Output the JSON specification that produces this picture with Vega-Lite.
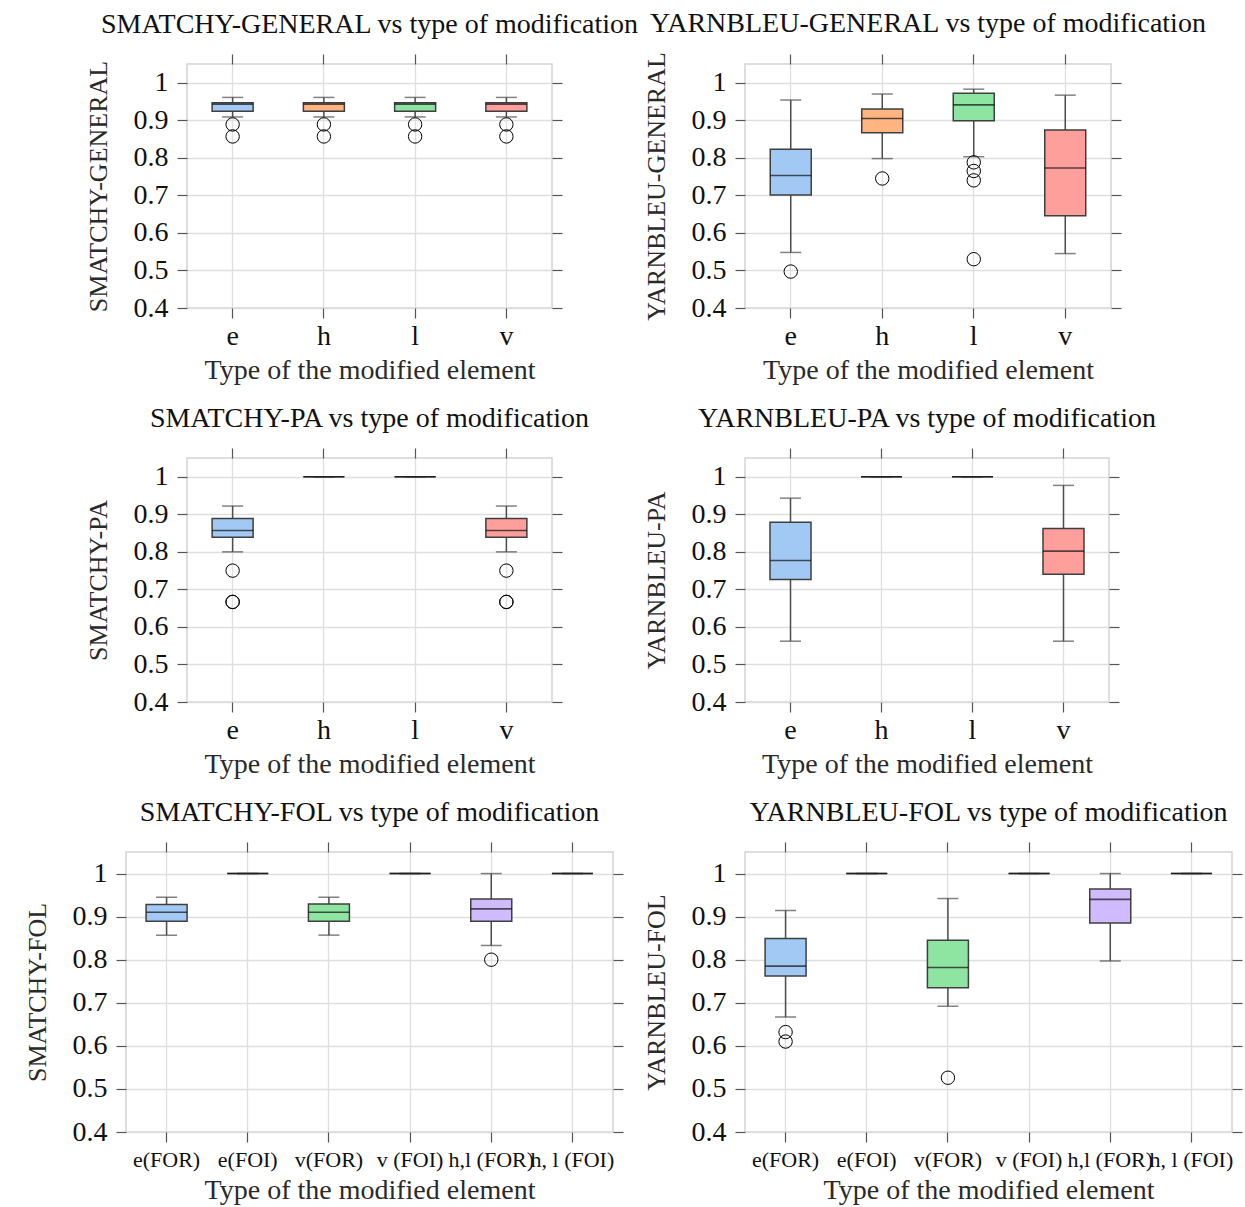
{
"$schema": "https://vega.github.io/schema/vega-lite/v6.json",
"padding": {"left": 23, "top": 8, "right": 0, "bottom": 0},
"background": "white",
"config": {
  "font": "Liberation Serif",
  "view": {"stroke": "#d4d4d4", "strokeWidth": 1.5},
  "axis": {"domain": false, "tickColor": "#555", "tickSize": 10, "tickWidth": 1.2, "labelFont": "Liberation Serif", "labelFontSize": 28, "labelColor": "#111", "titleFont": "Liberation Serif", "titleFontSize": 28, "titleFontWeight": "normal", "titleColor": "#2a2a2a", "gridColor": "#dedede", "gridWidth": 1.3},
  "axisY": {"titleFontSize": 26},
  "title": {"font": "Liberation Serif", "fontSize": 28, "fontWeight": "normal", "color": "#111", "offset": 14}
},
"datasets": {
  "boxes": [
    {"panel": "p1", "cat": "e", "lower": 0.909, "q1": 0.924, "median": 0.943, "q3": 0.947, "upper": 0.961},
    {"panel": "p1", "cat": "h", "lower": 0.909, "q1": 0.924, "median": 0.943, "q3": 0.947, "upper": 0.961},
    {"panel": "p1", "cat": "l", "lower": 0.909, "q1": 0.924, "median": 0.943, "q3": 0.947, "upper": 0.961},
    {"panel": "p1", "cat": "v", "lower": 0.909, "q1": 0.924, "median": 0.943, "q3": 0.947, "upper": 0.961},
    {"panel": "p2", "cat": "e", "lower": 0.548, "q1": 0.701, "median": 0.753, "q3": 0.823, "upper": 0.954},
    {"panel": "p2", "cat": "h", "lower": 0.798, "q1": 0.867, "median": 0.905, "q3": 0.930, "upper": 0.970},
    {"panel": "p2", "cat": "l", "lower": 0.803, "q1": 0.899, "median": 0.941, "q3": 0.972, "upper": 0.983},
    {"panel": "p2", "cat": "v", "lower": 0.545, "q1": 0.646, "median": 0.773, "q3": 0.874, "upper": 0.967},
    {"panel": "p3", "cat": "e", "lower": 0.800, "q1": 0.839, "median": 0.857, "q3": 0.889, "upper": 0.922},
    {"panel": "p3", "cat": "h", "lower": 1, "q1": 1, "median": 1, "q3": 1, "upper": 1},
    {"panel": "p3", "cat": "l", "lower": 1, "q1": 1, "median": 1, "q3": 1, "upper": 1},
    {"panel": "p3", "cat": "v", "lower": 0.800, "q1": 0.839, "median": 0.857, "q3": 0.889, "upper": 0.922},
    {"panel": "p4", "cat": "e", "lower": 0.562, "q1": 0.726, "median": 0.777, "q3": 0.879, "upper": 0.943},
    {"panel": "p4", "cat": "h", "lower": 1, "q1": 1, "median": 1, "q3": 1, "upper": 1},
    {"panel": "p4", "cat": "l", "lower": 1, "q1": 1, "median": 1, "q3": 1, "upper": 1},
    {"panel": "p4", "cat": "v", "lower": 0.562, "q1": 0.740, "median": 0.802, "q3": 0.862, "upper": 0.977},
    {"panel": "p5", "cat": "e(FOR)", "lower": 0.857, "q1": 0.889, "median": 0.910, "q3": 0.928, "upper": 0.945},
    {"panel": "p5", "cat": "e(FOI)", "lower": 1, "q1": 1, "median": 1, "q3": 1, "upper": 1},
    {"panel": "p5", "cat": "v(FOR)", "lower": 0.857, "q1": 0.889, "median": 0.910, "q3": 0.929, "upper": 0.945},
    {"panel": "p5", "cat": "v (FOI)", "lower": 1, "q1": 1, "median": 1, "q3": 1, "upper": 1},
    {"panel": "p5", "cat": "h,l (FOR)", "lower": 0.833, "q1": 0.889, "median": 0.918, "q3": 0.941, "upper": 1.0},
    {"panel": "p5", "cat": "h, l (FOI)", "lower": 1, "q1": 1, "median": 1, "q3": 1, "upper": 1},
    {"panel": "p6", "cat": "e(FOR)", "lower": 0.667, "q1": 0.762, "median": 0.785, "q3": 0.849, "upper": 0.914},
    {"panel": "p6", "cat": "e(FOI)", "lower": 1, "q1": 1, "median": 1, "q3": 1, "upper": 1},
    {"panel": "p6", "cat": "v(FOR)", "lower": 0.692, "q1": 0.735, "median": 0.782, "q3": 0.845, "upper": 0.942},
    {"panel": "p6", "cat": "v (FOI)", "lower": 1, "q1": 1, "median": 1, "q3": 1, "upper": 1},
    {"panel": "p6", "cat": "h,l (FOR)", "lower": 0.797, "q1": 0.885, "median": 0.940, "q3": 0.964, "upper": 1.0},
    {"panel": "p6", "cat": "h, l (FOI)", "lower": 1, "q1": 1, "median": 1, "q3": 1, "upper": 1}
  ],
  "outliers": [
    {"panel": "p1", "cat": "e", "value": 0.889}, {"panel": "p1", "cat": "e", "value": 0.857},
    {"panel": "p1", "cat": "h", "value": 0.889}, {"panel": "p1", "cat": "h", "value": 0.857},
    {"panel": "p1", "cat": "l", "value": 0.889}, {"panel": "p1", "cat": "l", "value": 0.857},
    {"panel": "p1", "cat": "v", "value": 0.889}, {"panel": "p1", "cat": "v", "value": 0.857},
    {"panel": "p2", "cat": "e", "value": 0.497},
    {"panel": "p2", "cat": "h", "value": 0.745},
    {"panel": "p2", "cat": "l", "value": 0.788}, {"panel": "p2", "cat": "l", "value": 0.765}, {"panel": "p2", "cat": "l", "value": 0.740}, {"panel": "p2", "cat": "l", "value": 0.530},
    {"panel": "p3", "cat": "e", "value": 0.750}, {"panel": "p3", "cat": "e", "value": 0.6667}, {"panel": "p3", "cat": "e", "value": 0.6664},
    {"panel": "p3", "cat": "v", "value": 0.750}, {"panel": "p3", "cat": "v", "value": 0.6667}, {"panel": "p3", "cat": "v", "value": 0.6664},
    {"panel": "p5", "cat": "h,l (FOR)", "value": 0.800},
    {"panel": "p6", "cat": "e(FOR)", "value": 0.632}, {"panel": "p6", "cat": "e(FOR)", "value": 0.610},
    {"panel": "p6", "cat": "v(FOR)", "value": 0.526}
  ]
},
"columns": 2,
"bounds": "flush",
"align": {"row": "each", "column": "all"},
"center": true,
"spacing": {"row": 150, "column": 132},
"concat": [
  {"width": 365, "height": 244, "title": "SMATCHY-GENERAL vs type of modification",
   "resolve": {"axis": {"x": "independent", "y": "independent"}},
   "layer": [
    {"data": {"name": "boxes"}, "transform": [{"filter": "datum.panel === 'p1'"}], "mark": {"type": "rule", "color": "#4d4d4d", "strokeWidth": 1.5},
     "encoding": {"x": {"field": "cat", "type": "nominal", "scale": {"type": "band", "domain": ["e","h","l","v"], "paddingInner": 0, "paddingOuter": 0}, "axis": {"orient": "bottom", "title": "Type of the modified element", "grid": true, "labelAngle": 0, "labelPadding": 4, "titlePadding": 6}},
       "y": {"field": "lower", "type": "quantitative", "scale": {"domain": [0.4, 1.05], "nice": false, "zero": false}, "axis": {"orient": "left", "title": "SMATCHY-GENERAL", "values": [0.4,0.5,0.6,0.7,0.8,0.9,1], "format": ".1~f", "grid": true, "labelPadding": 9, "titlePadding": 22}},
       "y2": {"field": "upper"}}},
    {"data": {"name": "boxes"}, "transform": [{"filter": "datum.panel === 'p1'"}], "mark": {"type": "bar", "size": 41, "stroke": "#3f3f3f", "strokeWidth": 1.5},
     "encoding": {"x": {"field": "cat", "type": "nominal", "axis": {"orient": "top", "labels": false, "title": null, "grid": false}},
       "y": {"field": "q1", "type": "quantitative", "axis": {"orient": "right", "labels": false, "title": null, "grid": false, "values": [0.4,0.5,0.6,0.7,0.8,0.9,1]}},
       "y2": {"field": "q3"},
       "color": {"field": "cat", "type": "nominal", "legend": null, "scale": {"domain": ["e","h","l","v","e(FOR)","e(FOI)","v(FOR)","v (FOI)","h,l (FOR)","h, l (FOI)"], "range": ["#a1c9f4","#ffb482","#8de5a1","#ff9f9b","#a1c9f4","#ffb482","#8de5a1","#ff9f9b","#d0bbff","#debb9b"]}}}},
    {"data": {"name": "boxes"}, "transform": [{"filter": "datum.panel === 'p1'"}], "mark": {"type": "tick", "size": 21, "thickness": 1.5, "color": "#4d4d4d"},
     "encoding": {"x": {"field": "cat", "type": "nominal", "axis": null}, "y": {"field": "lower", "type": "quantitative", "axis": null}}},
    {"data": {"name": "boxes"}, "transform": [{"filter": "datum.panel === 'p1'"}], "mark": {"type": "tick", "size": 21, "thickness": 1.5, "color": "#4d4d4d"},
     "encoding": {"x": {"field": "cat", "type": "nominal", "axis": null}, "y": {"field": "upper", "type": "quantitative", "axis": null}}},
    {"data": {"name": "boxes"}, "transform": [{"filter": "datum.panel === 'p1'"}], "mark": {"type": "tick", "size": 41, "thickness": 1.6, "color": "#111"},
     "encoding": {"x": {"field": "cat", "type": "nominal", "axis": null}, "y": {"field": "median", "type": "quantitative", "axis": null}}},
    {"data": {"name": "outliers"}, "transform": [{"filter": "datum.panel === 'p1'"}], "mark": {"type": "point", "shape": "circle", "filled": false, "size": 180, "color": "#000", "strokeWidth": 1, "opacity": 1},
     "encoding": {"x": {"field": "cat", "type": "nominal", "axis": null}, "y": {"field": "value", "type": "quantitative", "axis": null}}}
   ]},
  {"width": 366, "height": 244, "title": "YARNBLEU-GENERAL vs type of modification",
   "resolve": {"axis": {"x": "independent", "y": "independent"}},
   "layer": [
    {"data": {"name": "boxes"}, "transform": [{"filter": "datum.panel === 'p2'"}], "mark": {"type": "rule", "color": "#4d4d4d", "strokeWidth": 1.5},
     "encoding": {"x": {"field": "cat", "type": "nominal", "scale": {"type": "band", "domain": ["e","h","l","v"], "paddingInner": 0, "paddingOuter": 0}, "axis": {"orient": "bottom", "title": "Type of the modified element", "grid": true, "labelAngle": 0, "labelPadding": 4, "titlePadding": 6}},
       "y": {"field": "lower", "type": "quantitative", "scale": {"domain": [0.4, 1.05], "nice": false, "zero": false}, "axis": {"orient": "left", "title": "YARNBLEU-GENERAL", "values": [0.4,0.5,0.6,0.7,0.8,0.9,1], "format": ".1~f", "grid": true, "labelPadding": 9, "titlePadding": 22}},
       "y2": {"field": "upper"}}},
    {"data": {"name": "boxes"}, "transform": [{"filter": "datum.panel === 'p2'"}], "mark": {"type": "bar", "size": 41, "stroke": "#3f3f3f", "strokeWidth": 1.5},
     "encoding": {"x": {"field": "cat", "type": "nominal", "axis": {"orient": "top", "labels": false, "title": null, "grid": false}},
       "y": {"field": "q1", "type": "quantitative", "axis": {"orient": "right", "labels": false, "title": null, "grid": false, "values": [0.4,0.5,0.6,0.7,0.8,0.9,1]}},
       "y2": {"field": "q3"},
       "color": {"field": "cat", "type": "nominal", "legend": null}}},
    {"data": {"name": "boxes"}, "transform": [{"filter": "datum.panel === 'p2'"}], "mark": {"type": "tick", "size": 21, "thickness": 1.5, "color": "#4d4d4d"},
     "encoding": {"x": {"field": "cat", "type": "nominal", "axis": null}, "y": {"field": "lower", "type": "quantitative", "axis": null}}},
    {"data": {"name": "boxes"}, "transform": [{"filter": "datum.panel === 'p2'"}], "mark": {"type": "tick", "size": 21, "thickness": 1.5, "color": "#4d4d4d"},
     "encoding": {"x": {"field": "cat", "type": "nominal", "axis": null}, "y": {"field": "upper", "type": "quantitative", "axis": null}}},
    {"data": {"name": "boxes"}, "transform": [{"filter": "datum.panel === 'p2'"}], "mark": {"type": "tick", "size": 41, "thickness": 1.6, "color": "#111"},
     "encoding": {"x": {"field": "cat", "type": "nominal", "axis": null}, "y": {"field": "median", "type": "quantitative", "axis": null}}},
    {"data": {"name": "outliers"}, "transform": [{"filter": "datum.panel === 'p2'"}], "mark": {"type": "point", "shape": "circle", "filled": false, "size": 180, "color": "#000", "strokeWidth": 1, "opacity": 1},
     "encoding": {"x": {"field": "cat", "type": "nominal", "axis": null}, "y": {"field": "value", "type": "quantitative", "axis": null}}}
   ]},
  {"width": 365, "height": 244, "title": "SMATCHY-PA vs type of modification",
   "resolve": {"axis": {"x": "independent", "y": "independent"}},
   "layer": [
    {"data": {"name": "boxes"}, "transform": [{"filter": "datum.panel === 'p3'"}], "mark": {"type": "rule", "color": "#4d4d4d", "strokeWidth": 1.5},
     "encoding": {"x": {"field": "cat", "type": "nominal", "scale": {"type": "band", "domain": ["e","h","l","v"], "paddingInner": 0, "paddingOuter": 0}, "axis": {"orient": "bottom", "title": "Type of the modified element", "grid": true, "labelAngle": 0, "labelPadding": 4, "titlePadding": 6}},
       "y": {"field": "lower", "type": "quantitative", "scale": {"domain": [0.4, 1.05], "nice": false, "zero": false}, "axis": {"orient": "left", "title": "SMATCHY-PA", "values": [0.4,0.5,0.6,0.7,0.8,0.9,1], "format": ".1~f", "grid": true, "labelPadding": 9, "titlePadding": 22}},
       "y2": {"field": "upper"}}},
    {"data": {"name": "boxes"}, "transform": [{"filter": "datum.panel === 'p3'"}], "mark": {"type": "bar", "size": 41, "stroke": "#3f3f3f", "strokeWidth": 1.5},
     "encoding": {"x": {"field": "cat", "type": "nominal", "axis": {"orient": "top", "labels": false, "title": null, "grid": false}},
       "y": {"field": "q1", "type": "quantitative", "axis": {"orient": "right", "labels": false, "title": null, "grid": false, "values": [0.4,0.5,0.6,0.7,0.8,0.9,1]}},
       "y2": {"field": "q3"},
       "color": {"field": "cat", "type": "nominal", "legend": null}}},
    {"data": {"name": "boxes"}, "transform": [{"filter": "datum.panel === 'p3'"}], "mark": {"type": "tick", "size": 21, "thickness": 1.5, "color": "#4d4d4d"},
     "encoding": {"x": {"field": "cat", "type": "nominal", "axis": null}, "y": {"field": "lower", "type": "quantitative", "axis": null}}},
    {"data": {"name": "boxes"}, "transform": [{"filter": "datum.panel === 'p3'"}], "mark": {"type": "tick", "size": 21, "thickness": 1.5, "color": "#4d4d4d"},
     "encoding": {"x": {"field": "cat", "type": "nominal", "axis": null}, "y": {"field": "upper", "type": "quantitative", "axis": null}}},
    {"data": {"name": "boxes"}, "transform": [{"filter": "datum.panel === 'p3'"}], "mark": {"type": "tick", "size": 41, "thickness": 1.6, "color": "#111"},
     "encoding": {"x": {"field": "cat", "type": "nominal", "axis": null}, "y": {"field": "median", "type": "quantitative", "axis": null}}},
    {"data": {"name": "outliers"}, "transform": [{"filter": "datum.panel === 'p3'"}], "mark": {"type": "point", "shape": "circle", "filled": false, "size": 180, "color": "#000", "strokeWidth": 1, "opacity": 1},
     "encoding": {"x": {"field": "cat", "type": "nominal", "axis": null}, "y": {"field": "value", "type": "quantitative", "axis": null}}}
   ]},
  {"width": 364, "height": 244, "title": "YARNBLEU-PA vs type of modification",
   "resolve": {"axis": {"x": "independent", "y": "independent"}},
   "layer": [
    {"data": {"name": "boxes"}, "transform": [{"filter": "datum.panel === 'p4'"}], "mark": {"type": "rule", "color": "#4d4d4d", "strokeWidth": 1.5},
     "encoding": {"x": {"field": "cat", "type": "nominal", "scale": {"type": "band", "domain": ["e","h","l","v"], "paddingInner": 0, "paddingOuter": 0}, "axis": {"orient": "bottom", "title": "Type of the modified element", "grid": true, "labelAngle": 0, "labelPadding": 4, "titlePadding": 6}},
       "y": {"field": "lower", "type": "quantitative", "scale": {"domain": [0.4, 1.05], "nice": false, "zero": false}, "axis": {"orient": "left", "title": "YARNBLEU-PA", "values": [0.4,0.5,0.6,0.7,0.8,0.9,1], "format": ".1~f", "grid": true, "labelPadding": 9, "titlePadding": 22}},
       "y2": {"field": "upper"}}},
    {"data": {"name": "boxes"}, "transform": [{"filter": "datum.panel === 'p4'"}], "mark": {"type": "bar", "size": 41, "stroke": "#3f3f3f", "strokeWidth": 1.5},
     "encoding": {"x": {"field": "cat", "type": "nominal", "axis": {"orient": "top", "labels": false, "title": null, "grid": false}},
       "y": {"field": "q1", "type": "quantitative", "axis": {"orient": "right", "labels": false, "title": null, "grid": false, "values": [0.4,0.5,0.6,0.7,0.8,0.9,1]}},
       "y2": {"field": "q3"},
       "color": {"field": "cat", "type": "nominal", "legend": null}}},
    {"data": {"name": "boxes"}, "transform": [{"filter": "datum.panel === 'p4'"}], "mark": {"type": "tick", "size": 21, "thickness": 1.5, "color": "#4d4d4d"},
     "encoding": {"x": {"field": "cat", "type": "nominal", "axis": null}, "y": {"field": "lower", "type": "quantitative", "axis": null}}},
    {"data": {"name": "boxes"}, "transform": [{"filter": "datum.panel === 'p4'"}], "mark": {"type": "tick", "size": 21, "thickness": 1.5, "color": "#4d4d4d"},
     "encoding": {"x": {"field": "cat", "type": "nominal", "axis": null}, "y": {"field": "upper", "type": "quantitative", "axis": null}}},
    {"data": {"name": "boxes"}, "transform": [{"filter": "datum.panel === 'p4'"}], "mark": {"type": "tick", "size": 41, "thickness": 1.6, "color": "#111"},
     "encoding": {"x": {"field": "cat", "type": "nominal", "axis": null}, "y": {"field": "median", "type": "quantitative", "axis": null}}}
   ]},
  {"width": 487, "height": 280, "title": "SMATCHY-FOL vs type of modification",
   "resolve": {"axis": {"x": "independent", "y": "independent"}},
   "layer": [
    {"data": {"name": "boxes"}, "transform": [{"filter": "datum.panel === 'p5'"}], "mark": {"type": "rule", "color": "#4d4d4d", "strokeWidth": 1.5},
     "encoding": {"x": {"field": "cat", "type": "nominal", "scale": {"type": "band", "domain": ["e(FOR)","e(FOI)","v(FOR)","v (FOI)","h,l (FOR)","h, l (FOI)"], "paddingInner": 0, "paddingOuter": 0}, "axis": {"orient": "bottom", "title": "Type of the modified element", "grid": true, "labelAngle": 0, "labelFontSize": 22, "labelOverlap": false, "labelPadding": 7, "titlePadding": 6}},
       "y": {"field": "lower", "type": "quantitative", "scale": {"domain": [0.4, 1.05], "nice": false, "zero": false}, "axis": {"orient": "left", "title": "SMATCHY-FOL", "values": [0.4,0.5,0.6,0.7,0.8,0.9,1], "format": ".1~f", "grid": true, "labelPadding": 9, "titlePadding": 22}},
       "y2": {"field": "upper"}}},
    {"data": {"name": "boxes"}, "transform": [{"filter": "datum.panel === 'p5'"}], "mark": {"type": "bar", "size": 41, "stroke": "#3f3f3f", "strokeWidth": 1.5},
     "encoding": {"x": {"field": "cat", "type": "nominal", "axis": {"orient": "top", "labels": false, "title": null, "grid": false}},
       "y": {"field": "q1", "type": "quantitative", "axis": {"orient": "right", "labels": false, "title": null, "grid": false, "values": [0.4,0.5,0.6,0.7,0.8,0.9,1]}},
       "y2": {"field": "q3"},
       "color": {"field": "cat", "type": "nominal", "legend": null}}},
    {"data": {"name": "boxes"}, "transform": [{"filter": "datum.panel === 'p5'"}], "mark": {"type": "tick", "size": 21, "thickness": 1.5, "color": "#4d4d4d"},
     "encoding": {"x": {"field": "cat", "type": "nominal", "axis": null}, "y": {"field": "lower", "type": "quantitative", "axis": null}}},
    {"data": {"name": "boxes"}, "transform": [{"filter": "datum.panel === 'p5'"}], "mark": {"type": "tick", "size": 21, "thickness": 1.5, "color": "#4d4d4d"},
     "encoding": {"x": {"field": "cat", "type": "nominal", "axis": null}, "y": {"field": "upper", "type": "quantitative", "axis": null}}},
    {"data": {"name": "boxes"}, "transform": [{"filter": "datum.panel === 'p5'"}], "mark": {"type": "tick", "size": 41, "thickness": 1.6, "color": "#111"},
     "encoding": {"x": {"field": "cat", "type": "nominal", "axis": null}, "y": {"field": "median", "type": "quantitative", "axis": null}}},
    {"data": {"name": "outliers"}, "transform": [{"filter": "datum.panel === 'p5'"}], "mark": {"type": "point", "shape": "circle", "filled": false, "size": 180, "color": "#000", "strokeWidth": 1, "opacity": 1},
     "encoding": {"x": {"field": "cat", "type": "nominal", "axis": null}, "y": {"field": "value", "type": "quantitative", "axis": null}}}
   ]},
  {"width": 487, "height": 280, "title": "YARNBLEU-FOL vs type of modification",
   "resolve": {"axis": {"x": "independent", "y": "independent"}},
   "layer": [
    {"data": {"name": "boxes"}, "transform": [{"filter": "datum.panel === 'p6'"}], "mark": {"type": "rule", "color": "#4d4d4d", "strokeWidth": 1.5},
     "encoding": {"x": {"field": "cat", "type": "nominal", "scale": {"type": "band", "domain": ["e(FOR)","e(FOI)","v(FOR)","v (FOI)","h,l (FOR)","h, l (FOI)"], "paddingInner": 0, "paddingOuter": 0}, "axis": {"orient": "bottom", "title": "Type of the modified element", "grid": true, "labelAngle": 0, "labelFontSize": 22, "labelOverlap": false, "labelPadding": 7, "titlePadding": 6}},
       "y": {"field": "lower", "type": "quantitative", "scale": {"domain": [0.4, 1.05], "nice": false, "zero": false}, "axis": {"orient": "left", "title": "YARNBLEU-FOL", "values": [0.4,0.5,0.6,0.7,0.8,0.9,1], "format": ".1~f", "grid": true, "labelPadding": 9, "titlePadding": 22}},
       "y2": {"field": "upper"}}},
    {"data": {"name": "boxes"}, "transform": [{"filter": "datum.panel === 'p6'"}], "mark": {"type": "bar", "size": 41, "stroke": "#3f3f3f", "strokeWidth": 1.5},
     "encoding": {"x": {"field": "cat", "type": "nominal", "axis": {"orient": "top", "labels": false, "title": null, "grid": false}},
       "y": {"field": "q1", "type": "quantitative", "axis": {"orient": "right", "labels": false, "title": null, "grid": false, "values": [0.4,0.5,0.6,0.7,0.8,0.9,1]}},
       "y2": {"field": "q3"},
       "color": {"field": "cat", "type": "nominal", "legend": null}}},
    {"data": {"name": "boxes"}, "transform": [{"filter": "datum.panel === 'p6'"}], "mark": {"type": "tick", "size": 21, "thickness": 1.5, "color": "#4d4d4d"},
     "encoding": {"x": {"field": "cat", "type": "nominal", "axis": null}, "y": {"field": "lower", "type": "quantitative", "axis": null}}},
    {"data": {"name": "boxes"}, "transform": [{"filter": "datum.panel === 'p6'"}], "mark": {"type": "tick", "size": 21, "thickness": 1.5, "color": "#4d4d4d"},
     "encoding": {"x": {"field": "cat", "type": "nominal", "axis": null}, "y": {"field": "upper", "type": "quantitative", "axis": null}}},
    {"data": {"name": "boxes"}, "transform": [{"filter": "datum.panel === 'p6'"}], "mark": {"type": "tick", "size": 41, "thickness": 1.6, "color": "#111"},
     "encoding": {"x": {"field": "cat", "type": "nominal", "axis": null}, "y": {"field": "median", "type": "quantitative", "axis": null}}},
    {"data": {"name": "outliers"}, "transform": [{"filter": "datum.panel === 'p6'"}], "mark": {"type": "point", "shape": "circle", "filled": false, "size": 180, "color": "#000", "strokeWidth": 1, "opacity": 1},
     "encoding": {"x": {"field": "cat", "type": "nominal", "axis": null}, "y": {"field": "value", "type": "quantitative", "axis": null}}}
   ]}
]
}
